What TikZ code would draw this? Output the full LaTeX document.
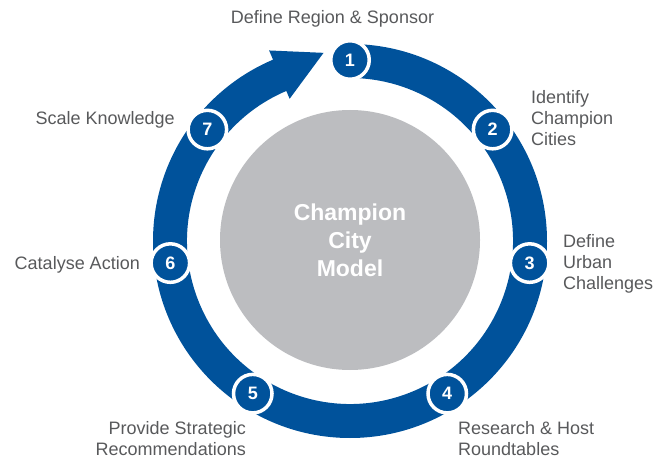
\documentclass[tikz,border=0pt]{standalone}
\usepackage{fontspec}
\setmainfont{Liberation Sans}
\definecolor{ringblue}{RGB}{0, 82, 155}
\definecolor{hubgray}{RGB}{188, 189, 192}
\definecolor{labelgray}{RGB}{88, 89, 91}

\begin{document}
\begin{tikzpicture}[
    x=1pt, y=1pt,
    stepnode/.style={
        circle,
        fill=ringblue,
        draw=white,
        line width=3.5pt,
        minimum size=38.5pt,
        inner sep=0pt,
        text=white,
        font=\bfseries\fontsize{18}{18}\selectfont
    },
    hub/.style={
        circle,
        fill=hubgray,
        minimum size=260pt,
        inner sep=0pt,
        align=center,
        text=white,
        font=\bfseries\fontsize{23}{28}\selectfont
    },
    lbl/.style={
        text=labelgray,
        inner sep=0pt,
        align=left,
        font=\fontsize{18}{21}\selectfont
    }
]
\useasboundingbox (0,0) rectangle (653,461);
\coordinate (c) at (350,220);

% ring ending in the arrow head
\fill[ringblue, shift={(c)}] (90:197pt)
    arc[start angle=90, end angle=-247, radius=197pt]
    -- (-247:207pt) -- (-262:190pt) -- (-247:154.5pt) -- (-247:163pt)
    arc[start angle=-247, end angle=90, radius=163pt] -- cycle;

\node[hub] (hub) at ([yshift=1pt]c) {Champion\\City\\Model};

\foreach \n/\a in {1/90, 2/38, 3/-7, 4/-57.5, 5/-122.5, 6/187, 7/142}
    \node[stepnode] (s\n) at ([shift={(\a:181pt)}]c) {\n};

\node[lbl, anchor=base] (l1) at (332.5,437) {Define Region \& Sponsor};
\node[lbl, anchor=north west] (l2) at (531,371) {Identify\\Champion\\Cities};
\node[lbl, anchor=north west] (l3) at (563,227) {Define\\Urban\\Challenges};
\node[lbl, anchor=north west] (l4) at (458,40) {Research \& Host\\Roundtables};
\node[lbl, anchor=north east, align=right] (l5) at (246,40) {Provide Strategic\\Recommendations};
\node[lbl, anchor=base east] (l6) at (140,191) {Catalyse Action};
\node[lbl, anchor=base east] (l7) at (175,336) {Scale Knowledge};

\end{tikzpicture}
\end{document}
